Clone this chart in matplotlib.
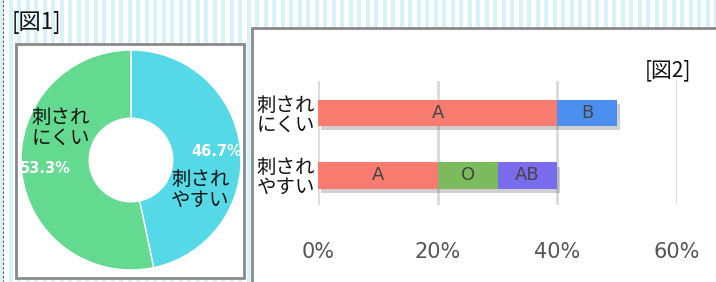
import numpy as np
import matplotlib.pyplot as plt
from matplotlib.patches import Rectangle
from matplotlib import patheffects as pe

plt.rcParams['font.family'] = ['Noto Sans CJK JP', 'DejaVu Sans']

# --- data ---
pie_labels = ["刺され\nやすい", "刺され\nにくい"]
pie_values = [46.7, 53.3]
pie_colors = ["#55D9E6", "#63DA8F"]

bar_rows = ["刺され\nにくい", "刺され\nやすい"]
seg_names = ["A", "B", "O", "AB"]
seg_colors = ["#F87B70", "#4C8FEF", "#7CBA5E", "#7A6CEE"]
seg_values = {
    "A": [40, 20],
    "B": [10, 0],
    "O": [0, 10],
    "AB": [0, 10],
}
x_ticks = [0, 20, 40, 60]

W, H = 716, 282
fig = plt.figure(figsize=(W / 100, H / 100), dpi=100)


def px(x, y, w, h):
    # pixel box (top-left origin) -> figure fraction rect
    return [x / W, 1 - (y + h) / H, w / W, h / H]


# striped background
bg = fig.add_axes([0, 0, 1, 1])
bg.set_xlim(0, W)
bg.set_ylim(H, 0)
bg.axis("off")
for sx in np.arange(0, W, 8.5):
    bg.add_patch(Rectangle((sx, 0), 4, H, color="#D5F3F8", lw=0))
bg.plot([3, 3], [0, H], color="#555555", lw=0.8, ls=(0, (2, 2)))

# panels
bg.add_patch(Rectangle((16, 44), 228, 234, facecolor="white", edgecolor="#8A8A8A", lw=2))
bg.add_patch(Rectangle((252, 28), 470, 260, facecolor="white", edgecolor="#8A8A8A", lw=2))
bg.text(12, 22, "[図1]", fontsize=16, va="center", ha="left", color="#111111")

# --- donut chart ---
pax = fig.add_axes(px(21, 50, 220, 220))
wedges, _, autotexts = pax.pie(
    pie_values, colors=pie_colors, startangle=90, counterclock=False,
    autopct=lambda p: f"{p:.1f}%", pctdistance=0.78,
    wedgeprops=dict(width=0.62, edgecolor="white", linewidth=1),
)
for t in autotexts:
    t.set_color("white")
    t.set_fontsize(10.5)
    t.set_fontweight("bold")
    t.set_fontfamily("DejaVu Sans")
pax.text(0.63, -0.27, pie_labels[0], fontsize=14, ha="center", va="center",
         linespacing=1.0, color="#111111")
pax.text(-0.64, 0.29, pie_labels[1], fontsize=14, ha="center", va="center",
         linespacing=1.0, color="#111111")
pax.set_xlim(-1, 1)
pax.set_ylim(-1, 1)
pax.set_aspect("equal")

# --- stacked bar chart ---
bax = fig.add_axes(px(318, 81, 359, 124))
ypos = np.arange(len(bar_rows))
left = np.zeros(len(bar_rows))
for name, col in zip(seg_names, seg_colors):
    vals = np.array(seg_values[name], dtype=float)
    bars = bax.barh(ypos, vals, left=left, height=0.42, color=col, zorder=3)
    for b, v, l in zip(bars, vals, left):
        if v > 0:
            b.set_path_effects([pe.SimplePatchShadow(offset=(2, -3), alpha=0.25, shadow_rgbFace="#444444"),
                                pe.Normal()])
            bax.text(l + v / 2, b.get_y() + b.get_height() / 2, name, ha="center", va="center",
                     fontsize=13, color="#444444", family="DejaVu Sans", zorder=4)
    left += vals

bax.set_xlim(0, 60)
bax.set_ylim(1.472, -0.512)
bax.set_xticks(x_ticks)
bax.set_xticklabels([f"{t}%" for t in x_ticks], fontsize=15, color="#555555", family="DejaVu Sans")
bax.tick_params(axis="x", length=0, pad=27)
bax.set_yticks(ypos)
bax.set_yticklabels(bar_rows, fontsize=14, linespacing=0.95, color="#111111")
bax.tick_params(axis="y", length=0, pad=2)
for t in x_ticks:
    bax.axvline(t, color="#DADADA", lw=2, zorder=1)
for s in bax.spines.values():
    s.set_visible(False)
bax.patch.set_alpha(0)

bg.text(691, 70, "[図2]", fontsize=15, ha="right", va="center", color="#111111")

fig.savefig("out.png", dpi=100)
